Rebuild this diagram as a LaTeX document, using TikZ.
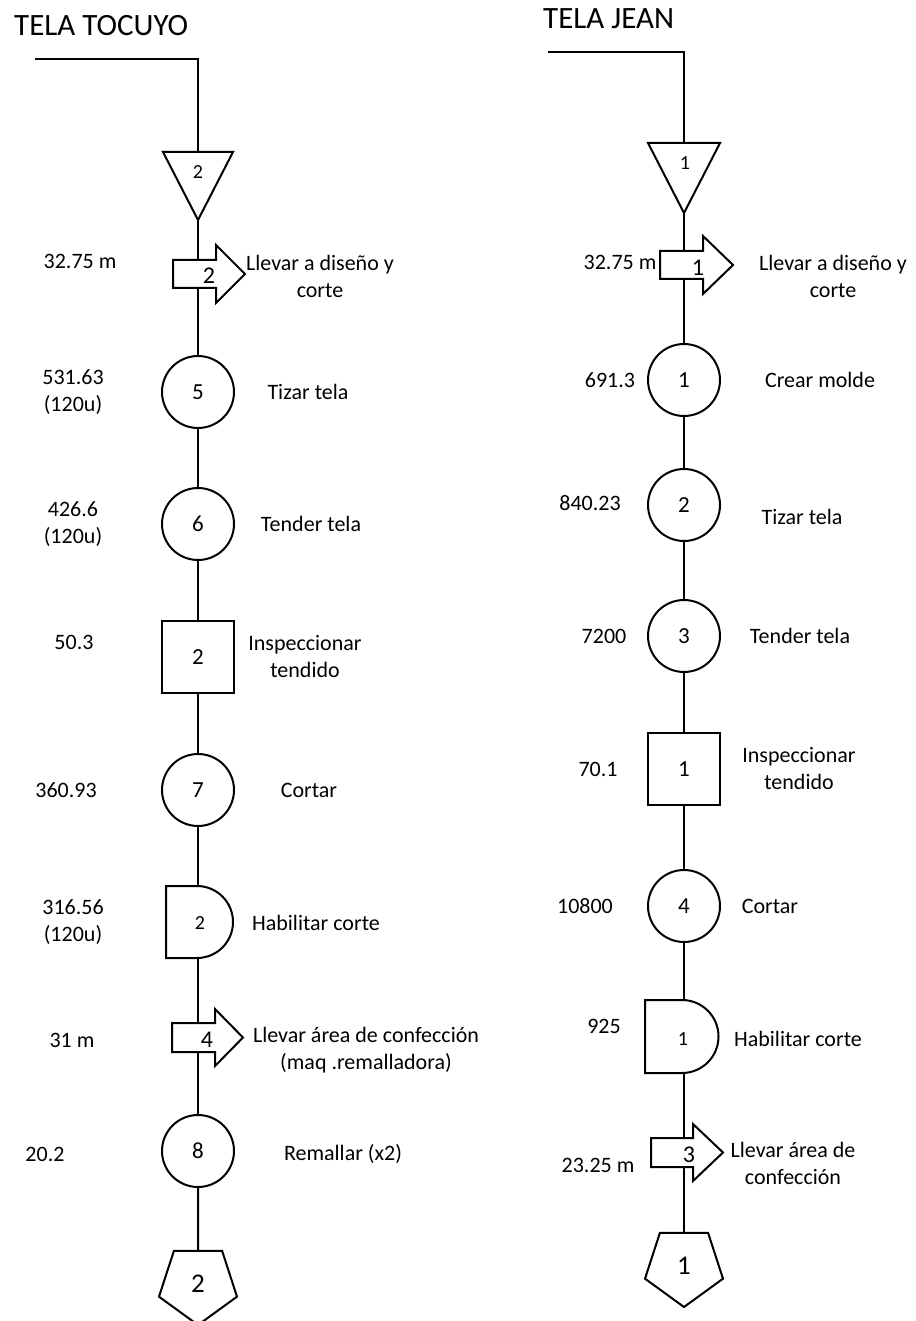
\documentclass[tikz,border=0pt]{standalone}
\usepackage{fontspec}
\setmainfont{Carlito}
\usetikzlibrary{shapes.geometric}
\begin{document}
\begin{tikzpicture}[x=1pt,y=-1pt,
  ln/.style={line width=2pt, line join=miter},
  ghost/.style={inner sep=0pt, outer sep=0pt},
  circ/.style={draw, line width=2pt, circle, minimum size=72pt, inner sep=0pt, font=\fontsize{23}{26}\selectfont},
  sq/.style={draw, line width=2pt, rectangle, minimum size=72pt, inner sep=0pt, font=\fontsize{23}{26}\selectfont},
  pent/.style={draw, line width=2pt, regular polygon, regular polygon sides=5, shape border rotate=180, minimum size=82pt, inner sep=0pt, font=\fontsize{27}{30}\selectfont},
  lbl/.style={align=center, font=\fontsize{22}{27}\selectfont, inner sep=0pt},
  num/.style={font=\fontsize{20}{22}\selectfont, inner sep=0pt},
  tnum/.style={font=\fontsize{24}{26}\selectfont, inner sep=0pt},
  ttl/.style={font=\fontsize{31}{34}\selectfont, inner sep=0pt, anchor=west}
]
\useasboundingbox (0,0) rectangle (915,1321);

% ---------------- TELA TOCUYO ----------------
\node[ttl] (Lt) at (14,26) {TELA TOCUYO};
\coordinate (Ls) at (35,59);
\node[ghost, minimum width=70pt, minimum height=68pt] (L0) at (198,186) {};
\draw[ln] (L0.north west) -- (L0.north east) -- (L0.south) -- cycle;
\node[num] (L0n) at (198,172) {2};
\draw[ln] (Ls) -| (L0.north);

\node[ghost, minimum width=43pt, minimum height=28pt] (L1) at (194.5,274) {};
\draw[ln] (L1.north west) -- (L1.north east) -- ++(0,-15) -- ++(29,29) -- ++(-29,29) -- (L1.south east) -- (L1.south west) -- cycle;
\node[tnum] (L1n) at (209,276) {2};
\draw[ln] (L0.south) -- (L0.south |- L1.north);

\node[circ] (L2) at (198,392) {5};
\draw[ln] (L1.south -| L2.north) -- (L2.north);
\node[circ] (L3) at (198,524) {6};
\draw[ln] (L2.south) -- (L3.north);
\node[sq] (L4) at (198,657) {2};
\draw[ln] (L3.south) -- (L4.north);
\node[circ] (L5) at (198,790) {7};
\draw[ln] (L4.south) -- (L5.north);

\node[ghost, minimum width=67pt, minimum height=72pt] (L6) at (199.5,922) {};
\draw[ln] (L6.north west) -- ++(31,0) arc[start angle=90, end angle=-90, radius=36pt] -- (L6.south west) -- cycle;
\node[num] (L6n) at (200,923) {2};
\draw[ln] (L5.south) -- (L5.south |- L6.north);

\node[ghost, minimum width=43pt, minimum height=29pt] (L7) at (193.5,1037.5) {};
\draw[ln] (L7.north west) -- (L7.north east) -- ++(0,-14) -- ++(28,28.5) -- ++(-28,28.5) -- (L7.south east) -- (L7.south west) -- cycle;
\node[tnum] (L7n) at (207,1040) {4};
\draw[ln] (L6.south -| L5.south) -- (L5.south |- L7.north);

\node[circ] (L8) at (198,1151) {8};
\draw[ln] (L8.north |- L7.south) -- (L8.north);
\node[pent] (L9) at (198,1284) {2};
\draw[ln] (L8.south) -- (L9.north);

\node[lbl] (La1) at (80,261) {32.75 m};
\node[lbl] (Lb1) at (320,276) {Llevar a diseño y\\corte};
\node[lbl] (La2) at (73,392) {531.63\\(120u)};
\node[lbl] (Lb2) at (308,392) {Tizar tela};
\node[lbl] (La3) at (73,524) {426.6\\(120u)};
\node[lbl] (Lb3) at (311,524) {Tender tela};
\node[lbl] (La4) at (74,642) {50.3};
\node[lbl] (Lb4) at (305,657) {Inspeccionar\\tendido};
\node[lbl] (La5) at (66,790) {360.93};
\node[lbl] (Lb5) at (309,790) {Cortar};
\node[lbl] (La6) at (73,922) {316.56\\(120u)};
\node[lbl] (Lb6) at (316,923) {Habilitar corte};
\node[lbl] (La7) at (72,1040) {31 m};
\node[lbl] (Lb7) at (366,1050) {Llevar área de confección\\(maq .remalladora)};
\node[lbl] (La8) at (45,1154) {20.2};
\node[lbl] (Lb8) at (343,1154) {Remallar (x2)};

% ---------------- TELA JEAN ----------------
\node[ttl] (Rt) at (543,19) {TELA JEAN};
\coordinate (Rs) at (548,52);
\node[ghost, minimum width=72pt, minimum height=70pt] (R0) at (684,178) {};
\draw[ln] (R0.north west) -- (R0.north east) -- (R0.south) -- cycle;
\node[num] (R0n) at (685,163) {1};
\draw[ln] (Rs) -| (R0.north);

\node[ghost, minimum width=43pt, minimum height=28pt] (R1) at (681.5,265) {};
\draw[ln] (R1.north west) -- (R1.north east) -- ++(0,-15) -- ++(30,29) -- ++(-30,29) -- (R1.south east) -- (R1.south west) -- cycle;
\node[tnum] (R1n) at (698,268) {1};
\draw[ln] (R0.south) -- (R0.south |- R1.north);

\node[circ] (R2) at (684,380) {1};
\draw[ln] (R1.south -| R2.north) -- (R2.north);
\node[circ] (R3) at (684,505) {2};
\draw[ln] (R2.south) -- (R3.north);
\node[circ] (R4) at (684,636) {3};
\draw[ln] (R3.south) -- (R4.north);
\node[sq] (R5) at (684,769) {1};
\draw[ln] (R4.south) -- (R5.north);
\node[circ] (R6) at (684,906) {4};
\draw[ln] (R5.south) -- (R6.north);

\node[ghost, minimum width=73.5pt, minimum height=73pt] (R7) at (681.75,1036.5) {};
\draw[ln] (R7.north west) -- ++(37,0) arc[start angle=90, end angle=-90, radius=36.5pt] -- (R7.south west) -- cycle;
\node[num] (R7n) at (683,1039) {1};
\draw[ln] (R6.south) -- (R6.south |- R7.north);

\node[ghost, minimum width=42pt, minimum height=29pt] (R8) at (672,1152.5) {};
\draw[ln] (R8.north west) -- (R8.north east) -- ++(0,-14) -- ++(30,28.5) -- ++(-30,28.5) -- (R8.south east) -- (R8.south west) -- cycle;
\node[tnum] (R8n) at (689,1155) {3};
\draw[ln] (R7.south -| R6.south) -- (R6.south |- R8.north);

\node[pent] (R9) at (684,1266) {1};
\draw[ln] (R9.north |- R8.south) -- (R9.north);

\node[lbl] (Ra1) at (620,262) {32.75 m};
\node[lbl] (Rb1) at (833,276) {Llevar a diseño y\\corte};
\node[lbl] (Ra2) at (610,380) {691.3};
\node[lbl] (Rb2) at (820,380) {Crear molde};
\node[lbl] (Ra3) at (590,503) {840.23};
\node[lbl] (Rb3) at (802,517) {Tizar tela};
\node[lbl] (Ra4) at (604,636) {7200};
\node[lbl] (Rb4) at (800,636) {Tender tela};
\node[lbl] (Ra5) at (598,769) {70.1};
\node[lbl] (Rb5) at (799,769) {Inspeccionar\\tendido};
\node[lbl] (Ra6) at (585,906) {10800};
\node[lbl] (Rb6) at (770,906) {Cortar};
\node[lbl] (Ra7) at (604,1026) {925};
\node[lbl] (Rb7) at (798,1039) {Habilitar corte};
\node[lbl] (Ra8) at (598,1165) {23.25 m};
\node[lbl] (Rb8) at (793,1163) {Llevar área de\\confección};
\end{tikzpicture}
\end{document}
